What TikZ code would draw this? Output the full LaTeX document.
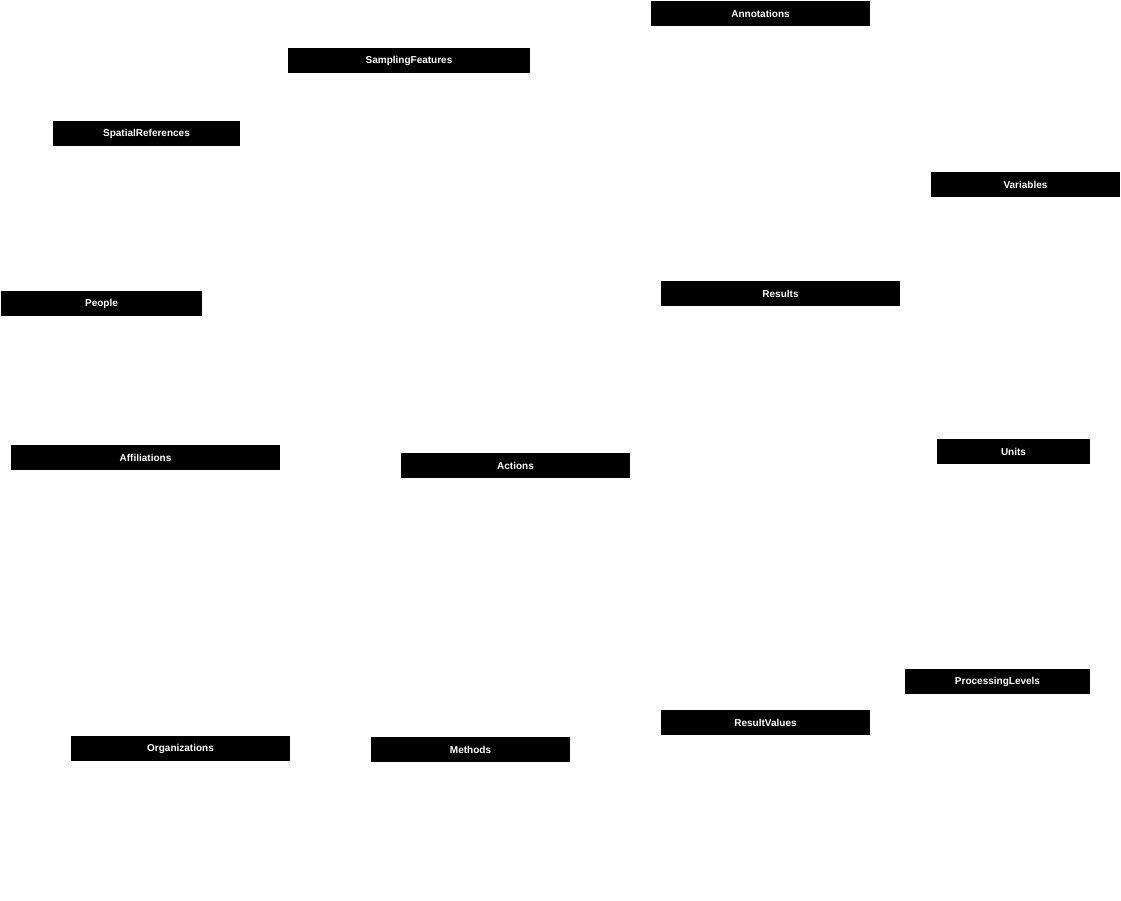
\documentclass[tikz,border=0pt]{standalone}
\usepackage{fontspec}
\setmainfont{Liberation Sans}
\usetikzlibrary{positioning}
\tikzset{
  tablebox/.style={draw=none, fill=black, text=white, inner sep=0, outer sep=0,
    font=\fontsize{10}{12}\selectfont\bfseries, anchor=center}
}
\begin{document}
\begin{tikzpicture}[x=1pt,y=-1pt]
\useasboundingbox (0,0) rectangle (1121,901);

% tables
\node [tablebox, minimum width=219, minimum height=25] (annotations) at (760.5,13.5) {Annotations};
\node [tablebox, minimum width=242, minimum height=25] (samplingfeatures) at (409,60.5) {SamplingFeatures};
\node [tablebox, minimum width=187, minimum height=25] (spatialreferences) at (146.5,133.5) {SpatialReferences};
\node [tablebox, minimum width=189, minimum height=25] (variables) at (1025.5,184.5) {Variables};
\node [tablebox, minimum width=201, minimum height=25] (people) at (101.5,303.5) {People};
\node [tablebox, minimum width=239, minimum height=25] (results) at (780.5,293.5) {Results};
\node [tablebox, minimum width=269, minimum height=25] (affiliations) at (145.5,457.5) {Affiliations};
\node [tablebox, minimum width=229, minimum height=25] (actions) at (515.5,465.5) {Actions};
\node [tablebox, minimum width=153, minimum height=25] (units) at (1013.5,451.5) {Units};
\node [tablebox, minimum width=185, minimum height=25] (processinglevels) at (997.5,681.5) {ProcessingLevels};
\node [tablebox, minimum width=209, minimum height=25] (resultvalues) at (765.5,722.5) {ResultValues};
\node [tablebox, minimum width=219, minimum height=25] (organizations) at (180.5,748.5) {Organizations};
\node [tablebox, minimum width=199, minimum height=25] (methods) at (470.5,749.5) {Methods};

\end{tikzpicture}
\end{document}
